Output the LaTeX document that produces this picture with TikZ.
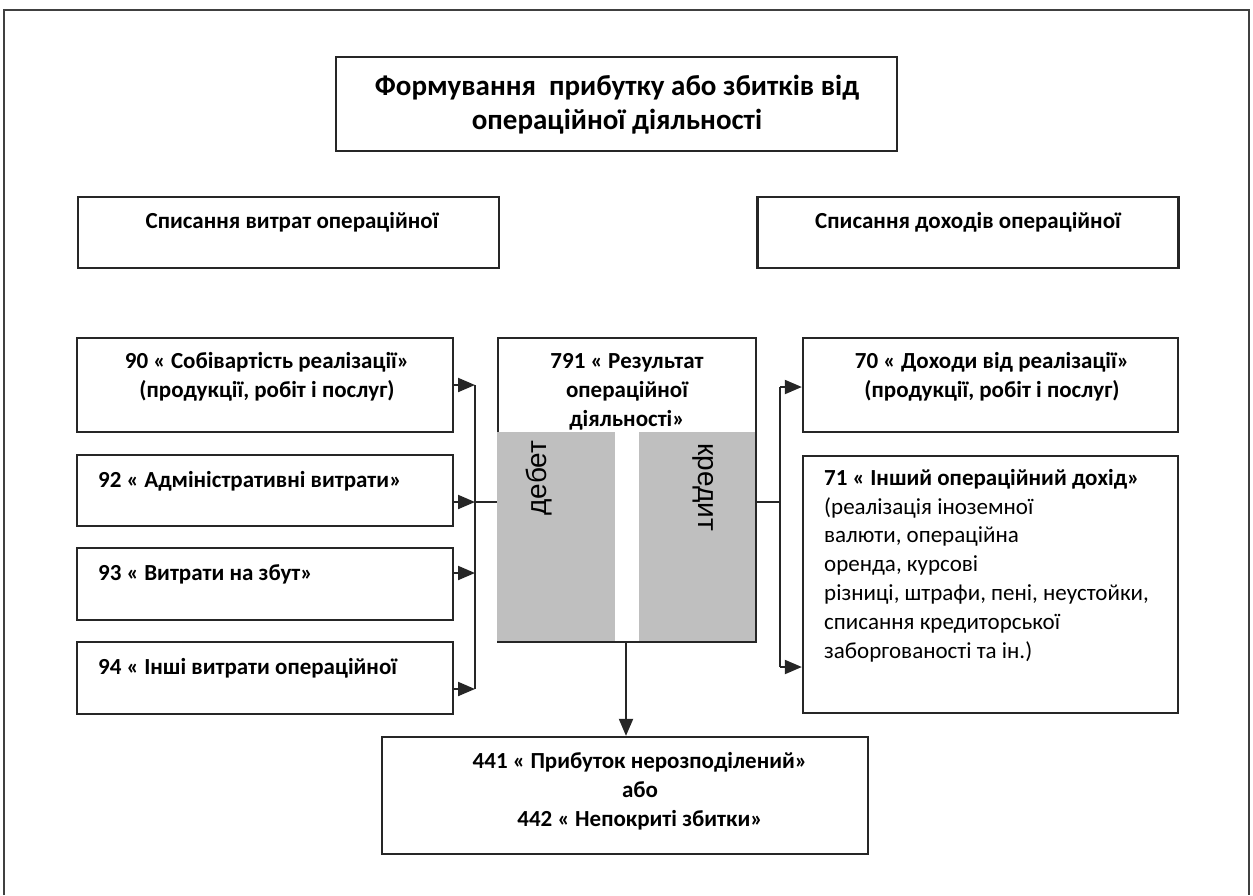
\documentclass[tikz,border=0pt]{standalone}
\usepackage{fontspec}
\setmainfont{Carlito}
\newfontfamily\arialf{Liberation Sans}
\usetikzlibrary{arrows.meta}
\newcommand\ftitleA{\fontsize{29}{34}\selectfont\bfseries}
\newcommand\fboxA{\fontsize{23}{29}\selectfont\bfseries}
\newcommand\fregA{\fontsize{23}{28.8}\selectfont}
\begin{document}
\begin{tikzpicture}[x=1pt,y=-1pt,
  box/.style={draw=black!85, line width=2.3pt, rectangle, inner sep=0pt},
  txt/.style={inner sep=0pt, align=center, font=\fboxA},
  ltxt/.style={inner sep=0pt, anchor=west, align=left, font=\fboxA},
  conn/.style={draw=black!85, line width=2pt},
  arr/.style={conn, -{Triangle[length=17pt,width=14pt]}},
  grayfill/.style={fill=black!25, draw=none}]
\useasboundingbox (0,0) rectangle (1253,895);
% outer frame
\coordinate (fbl) at (4,895);
\coordinate (ftl) at (4,10);
\coordinate (ftr) at (1249,10);
\coordinate (fbr) at (1249,895);
\draw[draw=black!75, line width=1.8pt] (fbl) -- (ftl) -- (ftr) -- (fbr);
% title
\node[box, minimum width=561pt, minimum height=94pt] (title) at (616.5,104) {};
\node[txt, font=\ftitleA] (titletxt) at (617,105) {Формування\ \ прибутку або збитків від\\операційної діяльності};
% headers
\node[box, minimum width=421pt, minimum height=71pt] (lh) at (288.5,232.5) {};
\node[txt] (lhtxt) at (292,222) {Списання витрат операційної};
\node[box, minimum width=421pt, minimum height=71pt] (rh) at (968,232.5) {};
\node[txt] (rhtxt) at (968,222) {Списання доходів операційної};
% left boxes
\node[box, minimum width=376pt, minimum height=94pt] (b90) at (265,385) {};
\node[txt] (b90txt) at (267,377) {90 « Собівартість реалізації»\\(продукції, робіт і послуг)};
\node[box, minimum width=376pt, minimum height=71pt] (b92) at (265,490.5) {};
\node[ltxt] (b92txt) at (98,481) {92 « Адміністративні витрати»};
\node[box, minimum width=376pt, minimum height=72pt] (b93) at (265,584) {};
\node[ltxt] (b93txt) at (98,574) {93 « Витрати на збут»};
\node[box, minimum width=376pt, minimum height=72pt] (b94) at (265,678) {};
\node[ltxt] (b94txt) at (98,668) {94 « Інші витрати операційної};
% centre box
\node[box, minimum width=258pt, minimum height=304pt] (c791) at (627,490) {};
\coordinate (gl1) at (496.5,432);
\coordinate (gl2) at (615,641);
\coordinate (gr1) at (639,432);
\coordinate (gr2) at (755,641);
\fill[grayfill] (gl1) rectangle (gl2);
\fill[grayfill] (gr1) rectangle (gr2);
\node[txt] (c791txt) at (627,392) {791 « Результат\\операційної\\діяльності»};
\node[inner sep=0pt, rotate=90, font=\arialf\fontsize{28}{30}\selectfont] (deb) at (539,478) {дебет};
\node[inner sep=0pt, rotate=-90, font=\arialf\fontsize{28}{30}\selectfont] (kred) at (703,487) {кредит};
% right boxes
\node[box, minimum width=375pt, minimum height=94pt] (b70) at (990.5,385) {};
\node[txt] (b70txt) at (992,377) {70 « Доходи від реалізації»\\(продукції, робіт і послуг)};
\node[box, minimum width=375pt, minimum height=257pt] (b71) at (990.5,584.5) {};
\node[inner sep=0pt, anchor=north west, align=left, font=\fregA] (b71txt) at (824,469)
  {\textbf{71 « Інший операційний дохід»}\\(реалізація іноземної\\валюти, операційна\\оренда, курсові\\різниці, штрафи, пені, неустойки,\\списання кредиторської\\заборгованості та ін.)};
% bottom box
\node[box, minimum width=486pt, minimum height=117pt] (b44) at (625,795.5) {};
\node[txt] (b44txt) at (640,791) {441 « Прибуток нерозподілений»\\або\\442 « Непокриті збитки»};
% left bus
\coordinate (lb1) at (475,385);
\coordinate (lb2) at (475,502);
\coordinate (lb3) at (475,573);
\coordinate (lb4) at (475,689);
\draw[arr] (b90.east |- lb1) -- (lb1);
\draw[arr] (b92.east |- lb2) -- (lb2);
\draw[arr] (b93.east |- lb3) -- (lb3);
\draw[arr] (b94.east |- lb4) -- (lb4);
\draw[conn] (lb1) -- (lb4);
\draw[conn] (lb2) -- (c791.west |- lb2);
% right bus
\coordinate (rb0) at (780,502);
\coordinate (rb1) at (780,387);
\coordinate (rb2) at (780,667);
\draw[conn] (c791.east |- rb0) -- (rb0);
\draw[conn] (rb1) -- (rb2);
\draw[arr] (rb1) -- (b70.west |- rb1);
\draw[arr] (rb2) -- (b71.west |- rb2);
% down
\coordinate (dx) at (626,0);
\draw[arr] (c791.south -| dx) -- (b44.north -| dx);
\end{tikzpicture}
\end{document}
